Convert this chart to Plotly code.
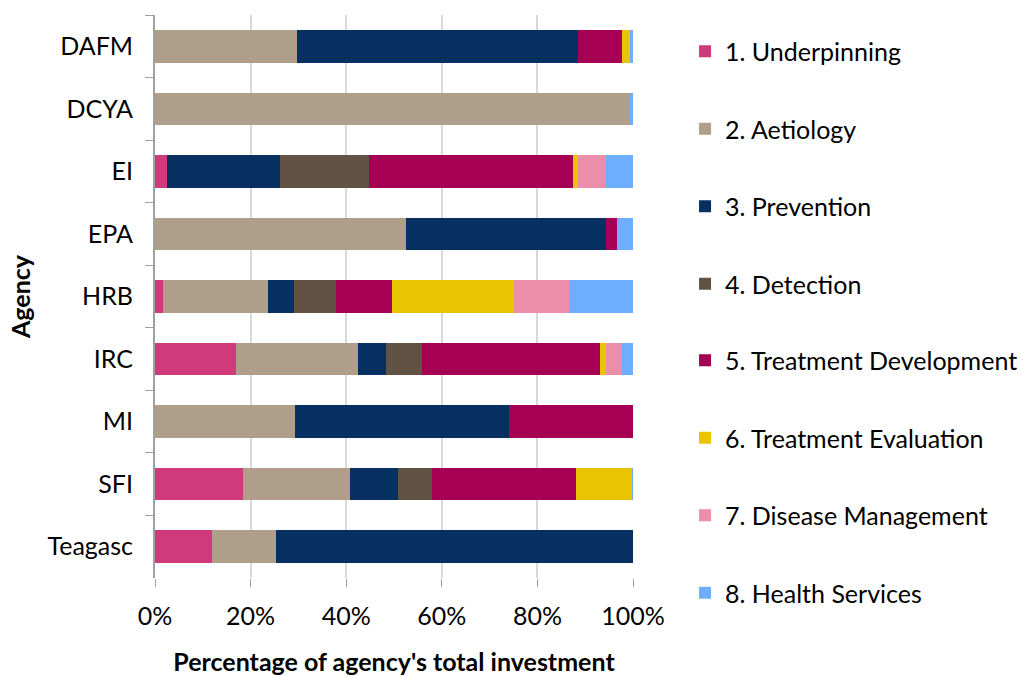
import plotly.graph_objects as go

agencies = ["DAFM", "DCYA", "EI", "EPA", "HRB", "IRC", "MI", "SFI", "Teagasc"]

categories = [
    "1. Underpinning",
    "2. Aetiology",
    "3. Prevention",
    "4. Detection",
    "5. Treatment Development",
    "6. Treatment Evaluation",
    "7. Disease Management",
    "8. Health Services",
]

# percentage share per agency, in the agency order above
underpinning = [0, 0, 2.5, 0, 1.6, 16.9, 0, 18.5, 12.0]
aetiology = [29.8, 99.4, 0, 52.5, 22.1, 25.5, 29.2, 22.3, 13.4]
prevention = [58.6, 0, 23.6, 41.9, 5.4, 5.9, 44.8, 10.1, 74.6]
detection = [0, 0, 18.6, 0, 8.8, 7.6, 0, 7.1, 0]
treatment_dev = [9.4, 0, 42.8, 2.2, 11.6, 37.0, 26.0, 30.1, 0]
treatment_eval = [1.6, 0, 0.9, 0, 25.5, 1.3, 0, 11.7, 0]
disease_mgmt = [0, 0, 5.9, 0, 11.7, 3.5, 0, 0, 0]
health_services = [0.6, 0.6, 5.7, 3.4, 13.3, 2.2, 0, 0.2, 0]

x_ticks = [0, 20, 40, 60, 80, 100]
x_tick_text = ["0%", "20%", "40%", "60%", "80%", "100%"]

series = [underpinning, aetiology, prevention, detection,
          treatment_dev, treatment_eval, disease_mgmt, health_services]
colors = ["#D0397A", "#AE9E8A", "#05305F", "#625243",
          "#A50054", "#E9C400", "#EC8DAA", "#6EAEFF"]

FONT = "Lato"
FS = 25

fig = go.Figure()
for i, (name, vals, col) in enumerate(zip(categories, series, colors)):
    # legend is split in two halves so the tall spacing fits
    fig.add_trace(go.Bar(y=agencies, x=vals, name=name, orientation="h",
                         marker=dict(color=col, line=dict(width=0)),
                         legendgroup=name,
                         legend="legend" if i < 4 else "legend2"))

legend_style = dict(xref="container", yref="container",
                    xanchor="left", yanchor="top", traceorder="grouped",
                    tracegroupgap=42, font=dict(family=FONT, size=FS),
                    bgcolor="rgba(0,0,0,0)")

fig.update_layout(
    barmode="stack", barnorm="percent", bargap=0.48,
    width=1022, height=676,
    margin=dict(l=155, r=389, t=15, b=98),
    plot_bgcolor="white", paper_bgcolor="white",
    font=dict(family=FONT, size=FS, color="#000000"),
    legend=dict(x=0.6703, y=0.9577, **legend_style),
    legend2=dict(x=0.6703, y=0.5006, **legend_style),
)
fig.update_xaxes(range=[0, 100], tickvals=x_ticks, ticktext=x_tick_text,
                 showgrid=True, gridcolor="#D9D9D9", gridwidth=2,
                 ticks="outside", ticklen=8, tickcolor="#A0A0A0",
                 showline=False, zeroline=False, automargin=False,
                 ticklabelstandoff=8,
                 title=dict(text="<b>Percentage of agency's total investment</b>",
                            font=dict(size=FS), standoff=25))
fig.update_yaxes(autorange="reversed", tickson="boundaries", ticks="outside",
                 ticklen=8, tickcolor="#A0A0A0", showline=True, linecolor="#A0A0A0",
                 linewidth=2, showgrid=False, automargin=False,
                 ticklabelstandoff=15,
                 title=dict(text="<b>Agency</b>", font=dict(size=FS), standoff=10))

# drop the default page margin so the figure sits at the window's corner
fig.write_html("out.html", config={"displayModeBar": False},
               post_script="document.body.style.margin='0';")
